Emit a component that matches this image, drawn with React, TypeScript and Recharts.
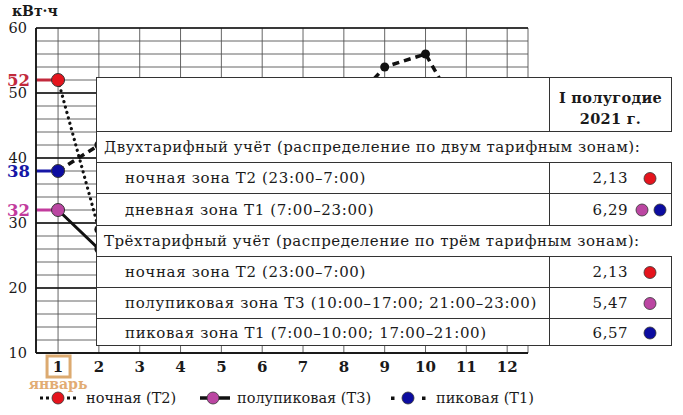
import React from 'react';
import { LineChart, Line, XAxis, YAxis, CartesianGrid, ReferenceLine } from 'recharts';

// months of the year (x axis)
const months = [1, 2, 3, 4, 5, 6, 7, 8, 9, 10, 11, 12];
const firstMonthName = 'январь';

// consumption, kWh (most points sit behind the table)
const nightT2 = [52, 29, 27, 25, 22, 20, 21, 23, 26, 30, 34, 39];
const semiPeakT3 = [32, 26, 28, 24, 21, 18, 17, 19, 22, 25, 29, 33];
const peakT1 = [38, 42, 44, 40, 36, 34, 38, 47, 54, 56, 45, 48];

const yLabels = [10, 20, 30, 40, 50, 60];
const yMinorStep = 2;
const unitLabel = 'кВт·ч';

const seriesNames = ['ночная (Т2)', 'полупиковая (Т3)', 'пиковая (Т1)'];
const seriesColors = ['#e5141d', '#bb46a2', '#0c0ca0'];
const valueLabelColors = ['#c22a3c', '#c23b9d', '#1717a6'];

// table
const headerLines = ['I полугодие', '2021 г.'];
const twoTariffTitle = 'Двухтарифный учёт (распределение по двум тарифным зонам):';
const twoTariffZones = ['ночная зона Т2 (23:00–7:00)', 'дневная зона Т1 (7:00–23:00)'];
const twoTariffRates = ['2,13', '6,29'];
const twoTariffDots = [[0], [1, 2]];
const threeTariffTitle = 'Трёхтарифный учёт (распределение по трём тарифным зонам):';
const threeTariffZones = [
  'ночная зона Т2 (23:00–7:00)',
  'полупиковая зона Т3 (10:00–17:00; 21:00–23:00)',
  'пиковая зона Т1 (7:00–10:00; 17:00–21:00)',
];
const threeTariffRates = ['2,13', '5,47', '6,57'];
const threeTariffDots = [[0], [1], [2]];

const FONT = '"DejaVu Serif", "Liberation Serif", serif';
const INK = '#1a1a1a';

const data = months.map((m, i) => ({
  month: m,
  night: nightT2[i],
  semi: semiPeakT3[i],
  peak: peakT1[i],
}));

const gridTicks: number[] = [];
for (let v = yLabels[0]; v <= yLabels[yLabels.length - 1]; v += yMinorStep) gridTicks.push(v);

const makeDot = (color: string) => (props: any) => {
  const { cx, cy, index } = props;
  if (index === 0) {
    return <circle key={`d${index}`} cx={cx} cy={cy} r={6.5} fill={color} stroke="#333" strokeWidth={1} />;
  }
  return <circle key={`d${index}`} cx={cx} cy={cy} r={4.5} fill="#111" />;
};

const YTick = (props: any) => {
  const { x, y, payload } = props;
  if (!yLabels.includes(payload.value)) return <g />;
  return (
    <text x={x - 1} y={y} dy={5} textAnchor="end" fontFamily={FONT} fontSize={14.5} fill={INK}>
      {payload.value}
    </text>
  );
};

const XTick = (props: any) => {
  const { x, y, payload } = props;
  const first = payload.value === months[0];
  return (
    <g>
      {first && (
        <rect x={x - 11} y={y - 5} width={23} height={21} fill="none" stroke="#dcaa70" strokeWidth={3} />
      )}
      <text x={x} y={y + 11} textAnchor="middle" fontFamily={FONT} fontSize={15} fontWeight="bold" fill={INK}>
        {payload.value}
      </text>
      {first && (
        <text x={x} y={y + 28} textAnchor="middle" fontFamily={FONT} fontSize={14} fontWeight="bold" fill="#e2ac74">
          {firstMonthName}
        </text>
      )}
    </g>
  );
};

const startValues = [nightT2[0], semiPeakT3[0], peakT1[0]];

const DotMark = ({ c, x }: { c: number; x: number }) => (
  <circle cx={x} cy={0} r={6} fill={seriesColors[c]} stroke="#333" strokeWidth={0.8} />
);

const legendText = { fontFamily: FONT, fontSize: 14.5, fill: INK };

const Legend = () => (
  <svg width={683} height={30} style={{ position: 'absolute', left: 0, top: 384 }}>
    <g transform="translate(0,14)">
      {/* night */}
      <rect x={40} y={-1.5} width={3} height={3} fill="#111" />
      <rect x={46} y={-1.5} width={3} height={3} fill="#111" />
      <rect x={67} y={-1.5} width={3} height={3} fill="#111" />
      <rect x={73} y={-1.5} width={3} height={3} fill="#111" />
      <DotMark c={0} x={58} />
      <text x={86} y={5} {...legendText}>{seriesNames[0]}</text>
      {/* semi */}
      <line x1={200} x2={230} y1={0} y2={0} stroke="#111" strokeWidth={3.5} />
      <DotMark c={1} x={213} />
      <text x={237} y={5} {...legendText}>{seriesNames[1]}</text>
      {/* peak */}
      <rect x={391} y={-1.5} width={3.5} height={3.5} fill="#111" />
      <rect x={422} y={-1.5} width={3.5} height={3.5} fill="#111" />
      <DotMark c={2} x={408} />
      <text x={436} y={5} {...legendText}>{seriesNames[2]}</text>
    </g>
  </svg>
);

const cellText: React.CSSProperties = {
  position: 'absolute',
  fontFamily: FONT,
  fontSize: 15,
  color: INK,
  whiteSpace: 'nowrap',
  letterSpacing: 0.65,
};

const TL = 96;
const TR = 672;
const VCOL = 549;

const TableRow = ({ top, height, zone, rate, dots }: { top: number; height: number; zone: string; rate: string; dots: number[] }) => (
  <div style={{ position: 'absolute', left: TL, top, width: TR - TL, height, borderTop: '1.5px solid #333', boxSizing: 'border-box' }}>
    <div style={{ position: 'absolute', left: VCOL - TL, top: 0, bottom: 0, borderLeft: '1.2px solid #333' }} />
    <div style={{ ...cellText, left: 29, top: 0, lineHeight: `${height}px` }}>{zone}</div>
    <div style={{ ...cellText, right: 44, top: 0, lineHeight: `${height}px`, letterSpacing: 0.5 }}>{rate}</div>
    <svg width={40} height={height} style={{ position: 'absolute', left: 632 - TL, top: 0 }}>
      <g transform={`translate(0,${height / 2})`}>
        {dots.length === 1 ? (
          <DotMark c={dots[0]} x={18} />
        ) : (
          dots.map((d, i) => <DotMark key={i} c={d} x={10 + i * 18} />)
        )}
      </g>
    </svg>
  </div>
);

const TitleRow = ({ top, height, text }: { top: number; height: number; text: string }) => (
  <div style={{ position: 'absolute', left: TL, top, width: TR - TL, height, borderTop: '1.5px solid #333', boxSizing: 'border-box' }}>
    <div style={{ ...cellText, left: 8, top: 0, lineHeight: `${height}px`, letterSpacing: 0.5 }}>{text}</div>
  </div>
);

const Table = () => {
  const rows1 = [162, 193];
  const h1 = [31, 32];
  const rows2 = [256, 287, 318];
  const h2 = [31, 31, 28];
  return (
    <>
      {/* white panel with left and bottom border */}
      <div
        style={{
          position: 'absolute',
          left: TL,
          top: 77,
          width: TR - TL,
          height: 346 - 77,
          background: '#fff',
          borderLeft: '1.5px solid #333',
          borderBottom: '1.5px solid #333',
          borderTop: '1.5px solid #333',
          boxSizing: 'border-box',
        }}
      />
      {/* header */}
      <div style={{ position: 'absolute', left: VCOL, top: 77, width: TR - VCOL, height: 54, borderLeft: '1.2px solid #333', borderRight: '1.5px solid #333', boxSizing: 'border-box' }}>
        <div style={{ ...cellText, left: 0, right: 0, top: 10, textAlign: 'center', fontWeight: 'bold', fontSize: 14.5, lineHeight: '21px', letterSpacing: 0.3 }}>
          {headerLines[0]}
          <br />
          {headerLines[1]}
        </div>
      </div>
      <TitleRow top={131} height={31} text={twoTariffTitle} />
      {twoTariffZones.map((z, i) => (
        <TableRow key={z} top={rows1[i]} height={h1[i]} zone={z} rate={twoTariffRates[i]} dots={twoTariffDots[i]} />
      ))}
      <TitleRow top={225} height={31} text={threeTariffTitle} />
      {threeTariffZones.map((z, i) => (
        <TableRow key={z + i} top={rows2[i]} height={h2[i]} zone={z} rate={threeTariffRates[i]} dots={threeTariffDots[i]} />
      ))}
      {/* right border for data rows */}
      <div style={{ position: 'absolute', left: TR - 1.5, top: 162, height: 63, borderLeft: '1.5px solid #333' }} />
      <div style={{ position: 'absolute', left: TR - 1.5, top: 256, height: 90, borderLeft: '1.5px solid #333' }} />
    </>
  );
};

export default function App() {
  return (
    <div style={{ position: 'absolute', left: 0, top: 0, width: 683, height: 415, background: '#fff', overflow: 'hidden' }}>
      <LineChart width={683} height={415} data={data} margin={{ top: 28, right: 155, bottom: 0, left: 0 }}>
        <CartesianGrid stroke="#555" strokeWidth={0.9} />
        <XAxis
          dataKey="month"
          type="number"
          domain={[0.46, 12.51]}
          ticks={months}
          allowDataOverflow
          height={62}
          tickLine={false}
          axisLine={{ stroke: '#111', strokeWidth: 1.6 }}
          tick={<XTick />}
          interval={0}
        />
        <YAxis
          type="number"
          domain={[yLabels[0], yLabels[yLabels.length - 1]]}
          ticks={gridTicks}
          width={36}
          tickLine={false}
          axisLine={{ stroke: '#111', strokeWidth: 1.8 }}
          tick={<YTick />}
          interval={0}
        />
        {yLabels.map((v) => (
          <ReferenceLine key={v} y={v} stroke="#111" strokeWidth={1.6} />
        ))}
        {startValues.map((v, i) => (
          <ReferenceLine
            key={`s${i}`}
            segment={[{ x: 0.46, y: v }, { x: months[0], y: v }]}
            stroke={valueLabelColors[i]}
            strokeWidth={3}
            label={(p: any) => (
              <text
                x={p.viewBox.x - 6}
                y={p.viewBox.y + 5.5}
                textAnchor="end"
                fontFamily={FONT}
                fontSize={16.5}
                fontWeight="bold"
                fill={valueLabelColors[i]}
              >
                {v}
              </text>
            )}
          />
        ))}
        <Line
          dataKey="semi"
          stroke="#111"
          strokeWidth={3}
          dot={makeDot(seriesColors[1])}
          isAnimationActive={false}
          type="linear"
        />
        <Line
          dataKey="peak"
          stroke="#111"
          strokeWidth={3.5}
          strokeDasharray="7 5"
          dot={makeDot(seriesColors[2])}
          isAnimationActive={false}
          type="linear"
        />
        <Line
          dataKey="night"
          stroke="#111"
          strokeWidth={3.2}
          strokeDasharray="0.1 5.5"
          strokeLinecap="round"
          dot={makeDot(seriesColors[0])}
          isAnimationActive={false}
          type="linear"
        />
      </LineChart>
      <div style={{ position: 'absolute', left: 12, top: 3, fontFamily: FONT, fontSize: 14, fontWeight: 'bold', color: INK }}>
        {unitLabel}
      </div>
      <Table />
      <Legend />
    </div>
  );
}
